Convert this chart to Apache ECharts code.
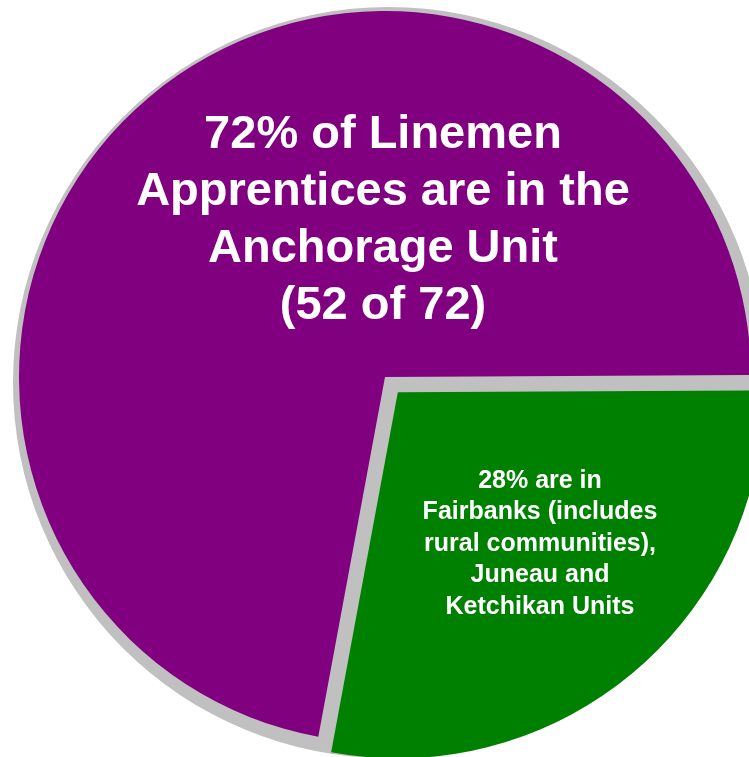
<!DOCTYPE html>
<html><head><meta charset="utf-8">
<script src="https://cdn.jsdelivr.net/npm/echarts@6/dist/echarts.min.js"></script>
<style>html,body{margin:0;padding:0;background:#fff}#c{width:749px;height:757px}</style>
</head><body><div id="c"></div>
<script>
const categories = ['Fairbanks, Juneau and Ketchikan Units', 'Anchorage Unit'];
const shares = [28, 72];
const colors = ['#008000', '#800080'];
const mainText = ['72% of Linemen', 'Apprentices are in the', 'Anchorage Unit', '(52 of 72)'];
const sideText = ['28% are in', 'Fairbanks (includes', 'rural communities),', 'Juneau and', 'Ketchikan Units'];

const chart = echarts.init(document.getElementById('c'), null, {renderer: 'canvas'});
chart.setOption({
  backgroundColor: '#ffffff',
  animation: false,
  series: [
    {
      type: 'pie', silent: true, z: 1,
      center: [388.6, 382.6], radius: [0, 375.6],
      label: {show: false}, labelLine: {show: false},
      itemStyle: {color: '#c0c0c0'},
      data: [{value: 1, name: 'shadow'}]
    },
    {
      type: 'pie', z: 2,
      center: [385, 377], radius: [0, 366],
      startAngle: 0.3, clockwise: true,
      selectedMode: 'single', selectedOffset: 20,
      label: {show: false}, labelLine: {show: false},
      emphasis: {disabled: true},
      data: categories.map((n, i) => ({
        name: n, value: shares[i], selected: i === 0,
        itemStyle: {color: colors[i]}
      }))
    }
  ],
  graphic: [
    {
      type: 'text', z: 10,
      style: {
        text: mainText.join('\n'), align: 'center',
        fill: '#ffffff', font: 'bold 47px "Liberation Sans", Arial, sans-serif',
        lineHeight: 57, x: 383, y: 107
      }
    },
    {
      type: 'text', z: 10,
      style: {
        text: sideText.join('\n'), align: 'center',
        fill: '#ffffff', font: 'bold 25px "Liberation Sans", Arial, sans-serif',
        lineHeight: 31.5, x: 540, y: 465
      }
    }
  ]
});
</script></body></html>
